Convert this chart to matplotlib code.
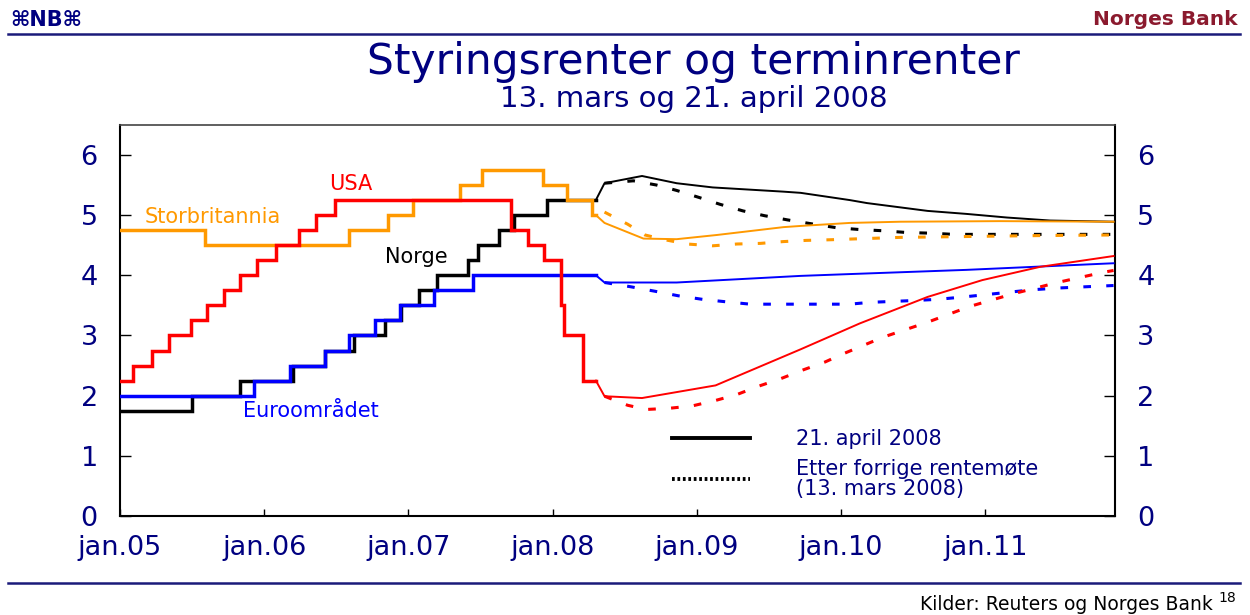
import matplotlib.pyplot as plt
from matplotlib.lines import Line2D

plt.rcParams['font.family'] = ['DejaVu Sans']

navy = '#000080'

# ---- styringsrenter (historisk), desimalår ----
norge_dato = [2005.0, 2005.5, 2005.83, 2006.2, 2006.42, 2006.62, 2006.84, 2006.95, 2007.07,
              2007.2, 2007.41, 2007.48, 2007.63, 2007.73, 2007.96, 2008.3]
norge_rente = [1.75, 2.0, 2.25, 2.5, 2.75, 3.0, 3.25, 3.5, 3.75,
               4.0, 4.25, 4.5, 4.75, 5.0, 5.25, 5.25]

euro_dato = [2005.0, 2005.93, 2006.18, 2006.42, 2006.59, 2006.77, 2006.94, 2007.18, 2007.45, 2008.3]
euro_rente = [2.0, 2.25, 2.5, 2.75, 3.0, 3.25, 3.5, 3.75, 4.0, 4.0]

uk_dato = [2005.0, 2005.59, 2006.59, 2006.86, 2007.03, 2007.36, 2007.51, 2007.93, 2008.1, 2008.27, 2008.3]
uk_rente = [4.75, 4.5, 4.75, 5.0, 5.25, 5.5, 5.75, 5.5, 5.25, 5.0, 5.0]

usa_dato = [2005.0, 2005.09, 2005.22, 2005.34, 2005.49, 2005.6, 2005.72, 2005.83, 2005.95,
            2006.08, 2006.24, 2006.36, 2006.49, 2007.71, 2007.83, 2007.94, 2008.06, 2008.08,
            2008.21, 2008.3]
usa_rente = [2.25, 2.5, 2.75, 3.0, 3.25, 3.5, 3.75, 4.0, 4.25,
             4.5, 4.75, 5.0, 5.25, 4.75, 4.5, 4.25, 3.5, 3.0,
             2.25, 2.25]

# ---- terminrenter 21. april 2008 ----
norge_apr_x = [2008.3, 2008.36, 2008.62, 2008.86, 2009.11, 2009.6, 2009.72, 2010.06, 2010.18,
               2010.6, 2010.87, 2011.15, 2011.45, 2011.89]
norge_apr = [5.25, 5.53, 5.65, 5.53, 5.46, 5.39, 5.37, 5.25, 5.2,
             5.07, 5.02, 4.96, 4.91, 4.89]

euro_apr_x = [2008.3, 2008.36, 2008.86, 2009.72, 2010.06, 2010.87, 2011.89]
euro_apr = [4.0, 3.88, 3.88, 3.99, 4.02, 4.09, 4.2]

uk_apr_x = [2008.3, 2008.36, 2008.63, 2008.86, 2009.14, 2009.6, 2009.72, 2010.06, 2010.41,
            2011.1, 2011.89]
uk_apr = [5.0, 4.87, 4.61, 4.6, 4.67, 4.8, 4.82, 4.87, 4.89, 4.9, 4.89]

usa_apr_x = [2008.3, 2008.36, 2008.62, 2009.13, 2009.72, 2010.13, 2010.6, 2010.98, 2011.38, 2011.89]
usa_apr = [2.25, 1.99, 1.96, 2.17, 2.77, 3.2, 3.64, 3.92, 4.14, 4.32]

# ---- terminrenter 13. mars 2008 ----
norge_mar_x = [2008.36, 2008.56, 2008.72, 2008.86, 2009.02, 2009.16, 2009.32, 2009.47, 2009.63,
               2009.81, 2009.97, 2010.13, 2010.29, 2010.46, 2010.62, 2010.78, 2011.89]
norge_mar = [5.53, 5.57, 5.5, 5.41, 5.29, 5.18, 5.07, 4.99, 4.92,
             4.85, 4.79, 4.76, 4.74, 4.71, 4.7, 4.68, 4.68]

euro_mar_x = [2008.36, 2008.54, 2008.72, 2008.87, 2009.04, 2009.2, 2009.37, 2010.06, 2010.2,
              2010.5, 2010.67, 2010.85, 2011.01, 2011.17, 2011.33, 2011.52, 2011.89]
euro_mar = [3.88, 3.81, 3.73, 3.66, 3.6, 3.56, 3.52, 3.52, 3.55,
            3.58, 3.6, 3.64, 3.68, 3.72, 3.76, 3.79, 3.83]

uk_mar_x = [2008.36, 2008.52, 2008.64, 2008.78, 2008.93, 2009.11, 2009.28, 2009.44, 2009.6,
            2009.76, 2009.92, 2010.41, 2010.74, 2011.05, 2011.38, 2011.89]
uk_mar = [5.05, 4.85, 4.67, 4.59, 4.52, 4.49, 4.52, 4.53, 4.56,
          4.58, 4.59, 4.63, 4.64, 4.65, 4.66, 4.67]

usa_mar_x = [2008.36, 2008.52, 2008.65, 2008.81, 2008.97, 2009.13, 2009.28, 2009.42, 2009.58,
             2009.74, 2009.89, 2010.01, 2010.29, 2010.6, 2010.89, 2011.19, 2011.5, 2011.82, 2011.89]
usa_mar = [1.99, 1.84, 1.77, 1.79, 1.83, 1.92, 2.02, 2.15, 2.28,
           2.43, 2.56, 2.69, 2.97, 3.22, 3.48, 3.69, 3.88, 4.05, 4.08]

aar = [2005, 2006, 2007, 2008, 2009, 2010, 2011]
aar_tekst = ['jan.05', 'jan.06', 'jan.07', 'jan.08', 'jan.09', 'jan.10', 'jan.11']
y_ticks = [0, 1, 2, 3, 4, 5, 6]

farge = {'norge': 'black', 'euro': '#0000ff', 'uk': '#ff9900', 'usa': '#ff0000'}

fig = plt.figure(figsize=(12.5, 6.15), dpi=100)
ax = fig.add_axes([0.096, 0.161, 0.796, 0.636])

tykk = 2.5
tynn = 1.4
stiplet = (0, (2.5, 5.0))

# rekkefølge: norge nederst, så euro, uk, usa
serier = [
    ('norge', norge_dato, norge_rente, norge_apr_x, norge_apr, norge_mar_x, norge_mar, 2),
    ('euro', euro_dato, euro_rente, euro_apr_x, euro_apr, euro_mar_x, euro_mar, 3),
    ('uk', uk_dato, uk_rente, uk_apr_x, uk_apr, uk_mar_x, uk_mar, 4),
    ('usa', usa_dato, usa_rente, usa_apr_x, usa_apr, usa_mar_x, usa_mar, 5),
]
for navn, hx, hy, ax_, ay, mx, my, z in serier:
    c = farge[navn]
    ax.step(hx, hy, where='post', color=c, lw=tykk, zorder=z, solid_joinstyle='miter')
    ax.plot(ax_, ay, color=c, lw=tynn, zorder=z)
    ax.plot(mx, my, color=c, lw=2.2, ls=stiplet, zorder=z)

ax.set_xlim(2005.0, 2011.9)
ax.set_ylim(0, 6.5)
ax.set_xticks(aar)
ax.set_xticklabels(aar_tekst)
ax.set_yticks(y_ticks)
ax.tick_params(axis='x', direction='in', length=5, width=1, pad=14, labelsize=19.5, labelcolor=navy)
ax.tick_params(axis='y', direction='in', length=8, width=1, pad=16, labelsize=19.5, labelcolor=navy,
               left=True, right=True, labelleft=True, labelright=True)
for s in ['left', 'right', 'bottom']:
    ax.spines[s].set_linewidth(1.5)
ax.spines['top'].set_color('#444444')
ax.spines['top'].set_linewidth(1.2)

# serienavn
ax.text(2006.6, 5.52, 'USA', color=farge['usa'], fontsize=15, ha='center', va='center')
ax.text(2005.17, 4.97, 'Storbritannia', color=farge['uk'], fontsize=15, ha='left', va='center')
ax.text(2006.84, 4.30, 'Norge', color='black', fontsize=15, ha='left', va='center')
ax.text(2005.85, 1.75, 'Euroområdet', color=farge['euro'], fontsize=15, ha='left', va='center')

# legende
handles = [Line2D([], [], color='black', lw=2.8),
           Line2D([], [], color='black', lw=2.8, ls=(0, (0.7, 0.7)))]
labels = ['21. april 2008', 'Etter forrige rentemøte\n(13. mars 2008)']
leg = ax.legend(handles, labels, loc='upper left', bbox_to_anchor=(0.555, 0.222),
                frameon=False, fontsize=15, handlelength=3.75, handletextpad=2.2,
                borderpad=0, borderaxespad=0, labelspacing=0.45)
for t in leg.get_texts():
    t.set_color(navy)
    t.set_linespacing(1.0)

# tittel
fig.text(0.555, 0.899, 'Styringsrenter og terminrenter', fontsize=30.5, color=navy,
         ha='center', va='center')
fig.text(0.555, 0.839, '13. mars og 21. april 2008', fontsize=21, color=navy,
         ha='center', va='center')

# topp og bunn
fig.text(0.008, 0.968, '⌘NB⌘', fontsize=15, color=navy, fontweight='bold', ha='left', va='center')
fig.text(0.99, 0.968, 'Norges Bank', fontsize=14.5, color='#8b1a2e', fontweight='bold',
         ha='right', va='center')
fig.add_artist(Line2D([0.006, 0.992], [0.945, 0.945], color='#1a1a7a', lw=1.8))
fig.add_artist(Line2D([0.006, 0.992], [0.052, 0.052], color='#1a1a7a', lw=1.8))
fig.text(0.97, 0.017, 'Kilder: Reuters og Norges Bank', fontsize=13.5, color='black',
         ha='right', va='center')
fig.text(0.975, 0.027, '18', fontsize=10, color='black', ha='left', va='center')

fig.savefig('out.png', dpi=100)
